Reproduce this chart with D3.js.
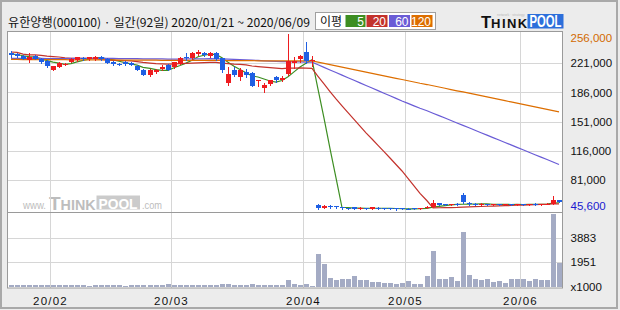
<!DOCTYPE html>
<html>
<head>
<meta charset="utf-8">
<script src="https://cdn.jsdelivr.net/npm/d3@7"></script>
<style>
  html, body { margin: 0; padding: 0; background: #ececec; }
  svg { display: block; }
  text { font-family: "Liberation Sans", Arial, sans-serif; }
</style>
</head>
<body>
<svg id="chart" width="620" height="310"></svg>
<script>
// trading days 2020/01/21 ~ 2020/06/09 (92)
const days = [
  '01/21','01/22','01/23','01/28','01/29','01/30','01/31',
  '02/03','02/04','02/05','02/06','02/07','02/10','02/11','02/12','02/13','02/14',
  '02/17','02/18','02/19','02/20','02/21','02/24','02/25','02/26','02/27','02/28',
  '03/02','03/03','03/04','03/05','03/06','03/09','03/10','03/11','03/12','03/13',
  '03/16','03/17','03/18','03/19','03/20','03/23','03/24','03/25','03/26','03/27','03/30','03/31',
  '04/01','04/02','04/08','04/09','04/10','04/13','04/14','04/16','04/17','04/20',
  '04/21','04/22','04/23','04/24','04/27','04/28','04/29',
  '05/04','05/06','05/07','05/08','05/11','05/12','05/13','05/14','05/15','05/18',
  '05/19','05/20','05/21','05/22','05/25','05/26','05/27','05/28','05/29',
  '06/01','06/02','06/03','06/04','06/05','06/08','06/09'
];

const opens = [
  233000,232000,230000,225000,230000,226000,224000,213000,217000,219500,
  223000,224500,227500,226500,226000,228000,226000,223000,220500,222500,
  221500,218000,213500,206500,210000,214500,219500,216000,220500,228500,
  227000,232500,233500,230000,233000,227000,197500,213000,205000,211000,
  209500,199500,191500,196000,204000,201000,208000,221000,226000,234500,
  223500,
  51500,47200,50000,49500,48500,47500,48800,46600,47500,
  46600,47800,47000,47600,47000,47000,46600,46800,46300,47300,
  48500,53300,51800,51000,52300,63500,53500,52500,51500,52300,
  51500,52000,51500,52000,51300,52000,51500,52300,51800,52000,
  52300,56800
];
const highs = [
  236000,233000,230500,233000,231000,227000,224500,218000,222000,221500,
  227500,229000,229000,229000,230000,229500,227000,224000,221500,223500,
  222500,219000,214000,214500,214000,218500,220500,222500,228000,233000,
  234000,237000,234500,234500,234500,227500,216000,216000,215000,214000,
  210500,201500,197500,201500,205500,206000,256000,229000,231000,246500,
  229500,
  52500,50800,50500,49800,48800,47800,49000,48000,47800,
  48300,48000,47300,47800,47300,47200,46900,47000,47600,49200,
  56500,53800,52300,52500,52800,64800,54000,52800,52800,52500,
  52500,52300,52200,52300,52400,52300,52500,52800,52600,52800,
  62000,57000
];
const lows = [
  229000,229000,226000,223000,226000,221500,217000,212500,216500,218500,
  222500,224000,225000,225500,225000,225500,221000,218500,218500,219500,
  219000,213000,206500,205500,209500,212500,212500,215500,220000,225500,
  226500,231000,229500,228500,225500,211000,195000,205500,201000,205000,
  194000,194000,187000,195000,199000,200000,206500,215000,222000,221500,
  218000,
  46200,46800,47500,47800,46500,46300,46200,46300,46200,
  46400,46500,46000,46300,45600,46000,46000,46000,46100,47000,
  48200,50500,50500,50800,51200,53500,51500,51300,51200,51200,
  51300,51200,51300,51000,51000,51200,51300,51500,51500,51800,
  52000,54000
];
const closes = [
  230500,230000,226500,228000,226500,222000,218000,217500,221500,220000,
  226000,228500,226500,228000,229000,226500,221500,220000,220000,220500,
  219500,213500,207000,213500,213000,216000,213500,222000,227000,227500,
  233000,235000,230500,233000,226500,213000,208000,207000,213000,207500,
  194000,201000,195000,201000,201000,203500,224000,224000,230000,224000,
  224500,
  46800,50000,48000,48200,46800,46800,46500,47600,46600,
  48000,46800,46500,46700,46200,46400,46400,46300,47300,48800,
  53000,51000,51000,51800,51500,54000,52000,51800,52300,51500,
  52000,51500,51800,51300,52000,51500,52000,51800,52300,52500,
  57500,54500
];
const volumes = [
  150000,120000,140000,130000,110000,150000,160000,140000,120000,100000,
  130000,120000,100000,90000,110000,100000,130000,110000,100000,90000,
  100000,120000,160000,140000,110000,100000,180000,130000,140000,110000,
  130000,120000,100000,110000,120000,200000,210000,150000,140000,120000,
  190000,150000,140000,130000,110000,120000,560000,190000,170000,230000,
  60000,
  2590000,1800000,690000,530000,610000,610000,850000,555000,555000,
  400000,400000,290000,290000,240000,290000,475000,210000,210000,850000,
  2830000,610000,610000,770000,420000,4330000,900000,630000,555000,610000,
  400000,420000,260000,610000,610000,610000,420000,610000,555000,555000,
  5760000,1900000
];

// moving averages
const ma5 = [
  232000,231500,230000,229000,228300,226600,224200,222400,221100,219800,
  220600,222700,224500,225800,227600,227700,226300,225000,223400,221700,
  220300,218700,216100,214800,213300,212600,212600,215600,218300,221200,
  224600,228900,230600,231800,231600,227600,222200,217500,213500,209700,
  205900,204500,202100,199700,198400,200300,204900,210700,216500,221100,
  225300,
  189900,155100,118700,83500,48000,48000,47300,47200,46900,
  47100,47100,47100,46900,46800,46500,46400,46400,46500,47000,
  48400,49300,50200,51100,51700,51900,52100,52200,52300,52300,
  51900,51800,51800,51600,51700,51600,51700,51700,51900,52000,
  53200,53700
];
const ma20 = [
  234500,234000,232000,231000,231000,230500,229500,229000,228500,227500,
  227000,227000,227000,226800,226500,225500,225000,224500,224500,224300,
  223800,223000,222000,221300,220600,220300,220100,220300,220600,221000,
  221300,221600,221800,222100,222000,221300,220600,220000,219600,219000,
  217700,217100,216500,215800,215200,214600,215100,215200,215400,215200,
  214800,
  205400,196400,187100,178200,169900,161800,153800,145500,137500,
  130200,122500,115100,107400,99600,91800,82900,74000,64900,56100,
  47500,47700,47800,47900,48100,48500,48700,49000,49200,49500,
  49700,49900,50200,50400,50700,50900,51200,51500,51800,51900,
  52200,52300
];
const ma60 = [
  227000,227000,226900,226900,226800,226800,226700,226700,226700,226700,
  226800,226800,226900,226900,226900,226900,226800,226800,226700,226700,
  226600,226500,226400,226300,226200,226200,226100,226100,226100,226200,
  226300,226400,226400,226500,226400,226200,225900,225600,225400,225100,
  224700,224400,224000,223700,223300,223000,222900,222800,222700,222500,
  222300,
  219200,216100,213000,209900,206800,203700,200600,197500,194400,
  191300,188200,185100,182000,178900,175800,172900,169900,167000,164100,
  161100,158200,155300,152400,149400,146500,143600,140600,137700,134800,
  131800,128900,126000,123100,120100,117200,114300,111300,108400,105500,
  102500,99600
];
const ma120 = [
  225600,225600,225500,225500,225500,225400,225400,225300,225300,225300,
  225200,225200,225200,225100,225100,225100,225000,225000,224900,224900,
  224900,224800,224800,224700,224700,224600,224600,224600,224500,224500,
  224500,224500,224500,224500,224400,224400,224300,224300,224200,224200,
  224100,224000,224000,223900,223900,223800,223800,223800,223800,223800,
  223800,
  222300,220800,219300,217800,216300,214900,213400,211900,210400,
  208900,207400,205900,204400,202900,201500,200000,198500,197000,195500,
  194000,192500,191000,189500,188000,186600,185100,183600,182100,180600,
  179100,177600,176100,174600,173100,171700,170200,168700,167200,165700,
  164200,162700
];

const maPeriods = ['5', '20', '60', '120'];
const maColors = ['#3d8e22', '#c3322c', '#6a5cd6', '#dd6e00'];
const priceTicks = [221000, 186000, 151000, 116000, 81000];
const volTicks = [1951000, 3883000];

const svg = d3.select('#chart');
const pLeft = 8, pRight = 562, pTop = 31, pSep = 212.5, pBottom = 288;

const x = d3.scaleBand().domain(d3.range(days.length)).range([pLeft, pRight]).padding(0);
const cx = (i) => Math.round(x(i) + x.bandwidth() / 2);

const y = d3.scaleLinear()
  .domain([d3.min(lows), d3.max(highs)])
  .range([209.5, 34.1]);

const yv = d3.scaleLinear().domain([0, 3883000]).range([286.7, 237.7]);

// background + outer frame
svg.append('rect').attr('width', 620).attr('height', 310).attr('fill', '#ececec');
svg.append('rect')
  .attr('x', 1).attr('y', 1).attr('width', 616).attr('height', 307)
  .attr('fill', 'none').attr('stroke', '#a9a9a9').attr('stroke-width', 2);

// title
svg.append('text')
  .attr('x', 8).attr('y', 27)
  .attr('textLength', 302).attr('lengthAdjust', 'spacingAndGlyphs')
  .style('font-family', '"Noto Sans CJK KR", sans-serif')
  .style('font-size', '12px')
  .attr('fill', '#111')
  .text('유한양행(000100) · 일간(92일) 2020/01/21 ~ 2020/06/09');

// legend
const lg = svg.append('g');
lg.append('rect')
  .attr('x', 315.5).attr('y', 12.5).attr('width', 120).attr('height', 17)
  .attr('fill', '#fff').attr('stroke', '#a0a0a0');
lg.append('text')
  .attr('x', 320).attr('y', 25.5)
  .style('font-family', '"Noto Sans CJK KR", sans-serif')
  .style('font-size', '12px').attr('fill', '#111')
  .text('이평');
const boxX = [345.5, 366.5, 389, 411.5], boxW = [20, 21, 21, 21];
maPeriods.forEach((p, k) => {
  lg.append('rect')
    .attr('x', boxX[k]).attr('y', 15).attr('width', boxW[k]).attr('height', 12)
    .attr('fill', maColors[k]);
  lg.append('text')
    .attr('x', boxX[k] + boxW[k] - 1.5).attr('y', 25.5)
    .attr('text-anchor', 'end')
    .style('font-size', '12px').attr('fill', '#fff')
    .text(p);
});

// THINKPOOL logo
const logo = svg.append('g');
logo.append('text').attr('x', 497).attr('y', 16)
  .style('font-size', '3.5px').attr('fill', '#bbb').text('network  ·  strategy');
logo.append('text').attr('x', 481).attr('y', 27.8)
  .style('font-weight', 'bold').attr('fill', '#111')
  .call(t => {
    t.append('tspan').style('font-size', '16.5px').text('T');
    t.append('tspan').style('font-size', '13px').attr('textLength', 36).text('HINK');
  });
logo.append('rect').attr('x', 527.5).attr('y', 14).attr('width', 36).attr('height', 14.5)
  .attr('fill', '#2c6fdb');
logo.append('text').attr('x', 529.5).attr('y', 27.2)
  .attr('textLength', 32).attr('lengthAdjust', 'spacingAndGlyphs')
  .style('font-size', '16.5px').style('font-weight', 'bold').attr('fill', '#fff')
  .text('POOL');

// plot area
svg.append('rect')
  .attr('x', 7.5).attr('y', pTop + 0.5).attr('width', pRight - 7.5 + 0.5).attr('height', pBottom - pTop - 0.5)
  .attr('fill', '#fff');

// watermark
const wm = svg.append('g').attr('fill', '#bdbdbd');
wm.append('text').attr('x', 23).attr('y', 209.3)
  .attr('textLength', 23).attr('lengthAdjust', 'spacingAndGlyphs')
  .style('font-size', '11px').text('www.');
wm.append('text').attr('x', 49).attr('y', 209.5).style('font-weight', 'bold')
  .call(t => {
    t.append('tspan').style('font-size', '19px').text('T');
    t.append('tspan').style('font-size', '15px').attr('textLength', 35).attr('lengthAdjust', 'spacingAndGlyphs').text('HINK');
  });
wm.append('rect').attr('x', 96.5).attr('y', 195.5).attr('width', 43.5).attr('height', 14)
  .attr('fill', '#cbcbcb');
wm.append('text').attr('x', 98.5).attr('y', 208.8)
  .attr('textLength', 39).attr('lengthAdjust', 'spacingAndGlyphs')
  .style('font-size', '14.5px').style('font-weight', 'bold').attr('fill', '#fff')
  .text('POOL');
wm.append('text').attr('x', 142).attr('y', 209.3)
  .attr('textLength', 20).attr('lengthAdjust', 'spacingAndGlyphs')
  .style('font-size', '11px').text('.com');

// grid
const grid = svg.append('g').attr('stroke', '#d6d6d6').attr('stroke-width', 1);
priceTicks.forEach(v => {
  const yy = Math.round(y(v)) + 0.5;
  grid.append('line').attr('x1', pLeft).attr('x2', pRight).attr('y1', yy).attr('y2', yy);
});
volTicks.forEach(v => {
  const yy = Math.round(yv(v)) + 0.5;
  grid.append('line').attr('x1', pLeft).attr('x2', pRight).attr('y1', yy).attr('y2', yy);
});
const monthIdx = d3.range(1, days.length).filter(i => days[i].slice(0, 2) !== days[i - 1].slice(0, 2));
monthIdx.forEach(i => {
  const xx = Math.round(x(i)) + 0.5;
  grid.append('line').attr('x1', xx).attr('x2', xx).attr('y1', pTop).attr('y2', pBottom);
});

// moving averages
const line = d3.line().x((d, i) => cx(i)).y(d => y(d));
[ma5, ma20, ma60, ma120].forEach((ma, k) => {
  svg.append('path')
    .attr('d', line(ma))
    .attr('fill', 'none')
    .attr('stroke', maColors[k])
    .attr('stroke-width', 1.2);
});

// candles
const candles = svg.append('g');
days.forEach((d, i) => {
  const up = closes[i] >= opens[i];
  const col = up ? '#ee1c1f' : '#1f5fe3';
  const c = cx(i);
  candles.append('line')
    .attr('x1', c + 0.5).attr('x2', c + 0.5)
    .attr('y1', Math.round(y(highs[i]))).attr('y2', Math.round(y(lows[i])) + 1)
    .attr('stroke', col);
  const yt = Math.round(y(Math.max(opens[i], closes[i])));
  const yb = Math.round(y(Math.min(opens[i], closes[i])));
  candles.append('rect')
    .attr('x', c - 2).attr('y', yt)
    .attr('width', 5).attr('height', Math.max(1, yb - yt))
    .attr('fill', col);
});

// volume
const vol = svg.append('g').attr('fill', '#a4abc4');
volumes.forEach((v, i) => {
  const yy = Math.round(yv(v));
  vol.append('rect')
    .attr('x', cx(i) - 2).attr('y', Math.min(yy, 286))
    .attr('width', 5).attr('height', Math.max(1, 287 - yy));
});

// frame and panel separator
svg.append('rect')
  .attr('x', 7.5).attr('y', pTop + 0.5).attr('width', pRight - 7.5 + 0.5).attr('height', pBottom - pTop - 0.5)
  .attr('fill', 'none').attr('stroke', '#9a9a9a');
svg.append('line')
  .attr('x1', 7.5).attr('x2', pRight + 0.5).attr('y1', pSep).attr('y2', pSep)
  .attr('stroke', '#9a9a9a');

// right axis labels
const fmt = d3.format(',');
const axis = svg.append('g').style('font-size', '11.5px');
const pmax = d3.max(highs), pmin = d3.min(lows);
axis.append('text').attr('x', 570.5).attr('y', Math.max(y(pmax), 38)).attr('dy', '0.36em')
  .attr('fill', '#d26a00').text(fmt(pmax));
priceTicks.forEach(v => {
  axis.append('text').attr('x', 570.5).attr('y', y(v)).attr('dy', '0.36em')
    .attr('fill', '#111').text(fmt(v));
});
axis.append('text').attr('x', 570.5).attr('y', Math.min(y(pmin), 205.7)).attr('dy', '0.36em')
  .attr('fill', '#1a1ad0').text(fmt(pmin));
volTicks.forEach(v => {
  axis.append('text').attr('x', 570.5).attr('y', yv(v)).attr('dy', '0.36em')
    .attr('fill', '#111').text(v / 1000);
});
axis.append('text').attr('x', 570.5).attr('y', yv(0)).attr('dy', '0.36em')
  .attr('fill', '#111').text('x1000');

// month labels
monthIdx.forEach(i => {
  svg.append('text')
    .attr('x', Math.round(x(i)) + 0.5).attr('y', 305)
    .attr('text-anchor', 'middle')
    .style('font-size', '11.5px').style('letter-spacing', '1.2px')
    .attr('fill', '#111')
    .text('20/' + days[i].slice(0, 2));
});
</script>
</body>
</html>
